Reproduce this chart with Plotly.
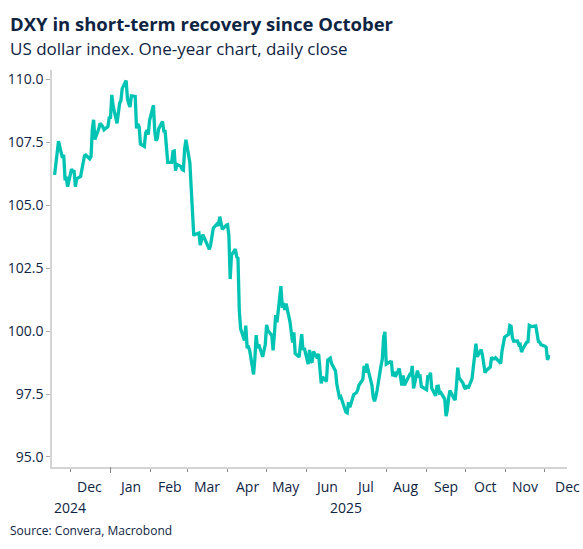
import pandas as pd
import plotly.graph_objects as go

# DXY daily close, one value per weekday
nov_2024 = [106.21, 106.68, 107.04, 107.55, 106.89, 107.01, 106.07, 106.08, 105.74]
dec_2024 = [106.44, 106.36, 106.35, 105.74, 106.06, 106.15, 106.40, 106.69, 106.97, 107.00,
            106.85, 106.93, 108.03, 108.40, 107.62, 108.05, 108.26, 108.20, 108.13, 108.00,
            108.13, 108.49]
jan_2025 = [108.50, 109.39, 108.95, 108.26, 108.68, 109.06, 109.17, 109.65, 109.96, 109.25,
            109.04, 108.91, 109.35, 109.33, 108.06, 108.24, 108.13, 107.44, 107.34, 107.87,
            107.99, 107.81, 108.37]
feb_2025 = [108.98, 107.94, 107.57, 107.67, 108.04, 108.33, 107.95, 107.94, 107.30, 106.71,
            106.71, 107.14, 107.16, 106.38, 106.63, 106.55, 106.43, 106.40, 107.25, 107.61]
mar_2025 = [106.70, 105.60, 104.26, 103.80, 103.84, 103.90, 103.42, 103.58, 103.84, 103.72,
            103.38, 103.25, 103.43, 103.84, 104.09, 104.26, 104.19, 104.55, 104.30, 104.04,
            104.21]
apr_2025 = [104.23, 103.80, 102.07, 103.02, 103.26, 102.95, 102.90, 100.86, 100.10, 99.63,
            100.22, 99.38, 99.38, 99.23, 98.28, 98.91, 99.84, 99.32, 99.47, 98.98,
            99.22, 99.47]
may_2025 = [100.25, 100.03, 99.83, 99.24, 99.88, 100.64, 100.35, 101.79, 101.02, 101.05,
            100.85, 101.09, 100.37, 100.03, 99.55, 99.95, 99.11, 98.97, 99.57, 99.88,
            99.26, 99.33]
jun_2025 = [98.69, 99.25, 98.80, 98.76, 99.19, 98.93, 99.10, 98.63, 97.92, 98.18,
            98.00, 98.85, 98.89, 98.93, 98.71, 98.42, 97.90, 97.68, 97.37, 97.40,
            96.88]
jul_2025 = [96.78, 96.75, 97.18, 96.97, 97.48, 97.52, 97.55, 97.65, 97.85, 98.08,
            98.62, 98.35, 98.70, 98.48, 97.85, 97.38, 97.21, 97.40, 97.65, 98.63,
            98.89, 99.78, 99.97]
aug_2025 = [98.69, 98.78, 98.77, 98.20, 98.39, 98.18, 98.52, 98.09, 97.84, 98.24,
            97.85, 98.17, 98.27, 98.23, 98.62, 97.72, 98.43, 98.21, 98.22, 97.80,
            97.77]
sep_2025 = [97.67, 98.24, 98.15, 98.35, 97.73, 97.43, 97.80, 97.81, 97.54, 97.56,
            97.30, 96.62, 96.87, 97.35, 97.64, 97.33, 97.26, 97.85, 98.55, 98.15,
            97.94, 97.77]
oct_2025 = [97.70, 97.85, 97.72, 98.11, 98.58, 98.86, 99.50, 98.98, 99.27, 99.04,
            98.67, 98.35, 98.44, 98.57, 98.96, 98.90, 98.90, 98.94, 98.78, 98.71,
            99.20, 99.52, 99.76]
nov_2025 = [99.87, 100.22, 100.19, 99.73, 99.60, 99.61, 99.46, 99.48, 99.17, 99.29,
            99.56, 99.58, 100.23, 100.20, 100.18, 100.21, 99.80, 99.59, 99.56, 99.46]
dec_2025 = [99.40, 99.36, 98.86, 98.99, 98.99]

dxy = (nov_2024 + dec_2024 + jan_2025 + feb_2025 + mar_2025 + apr_2025 + may_2025
       + jun_2025 + jul_2025 + aug_2025 + sep_2025 + oct_2025 + nov_2025 + dec_2025)
dates = pd.bdate_range("2024-11-19", periods=len(dxy))

month_starts = pd.date_range("2024-12-01", "2025-12-01", freq="MS")
month_labels = ["Dec", "Jan", "Feb", "Mar", "Apr", "May", "Jun",
                "Jul", "Aug", "Sep", "Oct", "Nov", "Dec"]
year_labels = ["2024", "2025"]
year_pos = ["2024-12-01", "2025-07-01"]

y_ticks = [95.0, 97.5, 100.0, 102.5, 105.0, 107.5, 110.0]

NAVY = "#0f2443"
TEAL = "#00c4b3"
AXIS = "#d4d4d4"
FONT = "Open Sans"

# plot area in pixels, used to place the header text
W, H = 583, 549
L, R, T, B = 52, 16, 70, 82
pw, ph = W - L - R, H - T - B


def px_x(x):
    return (x - L) / pw


def px_y(y):
    return (H - B - y) / ph


def label(x, y, text, size, xref="paper", xanchor="center"):
    fig.add_annotation(x=x, y=y, xref=xref, yref="paper", xanchor=xanchor,
                       yanchor="middle", text=text, showarrow=False,
                       font=dict(size=size, color=NAVY, family=FONT))


fig = go.Figure()
fig.add_trace(go.Scatter(x=dates, y=dxy, mode="lines",
                         line=dict(color=TEAL, width=3.3), hoverinfo="x+y"))

# month names in the middle of each month (last one kept inside the page)
for i, (d, lab) in enumerate(zip(month_starts, month_labels)):
    if i == len(month_starts) - 1:
        label(px_x(553), px_y(486), lab, 14, xanchor="left")
    else:
        label(d + pd.Timedelta(days=15), px_y(486), lab, 14, xref="x")
for pos, lab in zip(year_pos, year_labels):
    label(pos, px_y(508), lab, 14, xref="x")

# longer tick at the year boundary
fig.add_shape(type="line", x0="2025-01-01", x1="2025-01-01", y0=0, y1=px_y(473),
              xref="x", yref="paper", line=dict(color="#888888", width=1))

label(px_x(8), px_y(23), "<b>DXY in short-term recovery since October</b>", 18.5, xanchor="left")
label(px_x(8), px_y(49), "US dollar index. One-year chart, daily close", 17, xanchor="left")
label(px_x(8), px_y(530), "Source: Convera, Macrobond", 12, xanchor="left")

fig.update_layout(
    width=W, height=H,
    margin=dict(l=L, r=R, t=T, b=B, autoexpand=False),
    plot_bgcolor="white", paper_bgcolor="white",
    showlegend=False,
    font=dict(family=FONT, color=NAVY, size=14),
    xaxis=dict(range=["2024-11-17", "2025-12-18"], showgrid=False, zeroline=False,
               showline=True, linecolor=AXIS, linewidth=1.5, automargin=False,
               tickvals=month_starts, ticktext=[""] * len(month_starts),
               ticks="outside", ticklen=3, tickcolor="#888888"),
    yaxis=dict(range=[94.6, 110.38], showgrid=False, zeroline=False,
               showline=True, linecolor=AXIS, linewidth=1.5, automargin=False,
               tickvals=y_ticks, tickformat=".1f",
               ticks="outside", ticklen=4, tickcolor="#aaaaaa",
               tickfont=dict(size=14, color=NAVY)),
)

# drop the browser's default page margin so the figure fills the window
fig.write_html("out.html", config={"displayModeBar": False},
               post_script="document.body.style.margin = '0';")
